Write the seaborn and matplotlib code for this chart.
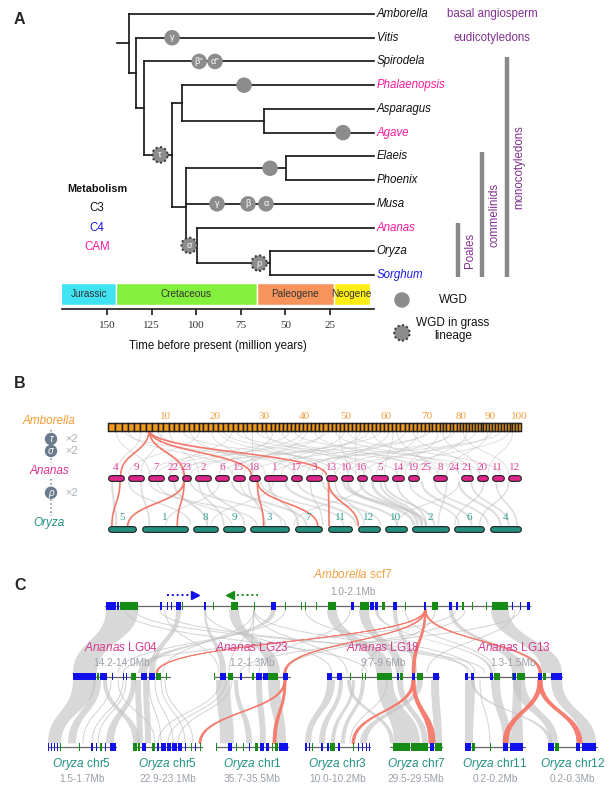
import numpy as np
import pandas as pd
import matplotlib
matplotlib.use('Agg')
import matplotlib.pyplot as plt
from matplotlib.patches import PathPatch, Rectangle
from matplotlib.path import Path
import matplotlib.patheffects as pe
import seaborn as sns

sns.set_theme(style='white')
plt.rcParams['font.family'] = ['Liberation Sans', 'DejaVu Sans']
plt.rcParams['mathtext.fontset'] = 'custom'
plt.rcParams['mathtext.it'] = 'Liberation Sans:italic'
plt.rcParams['mathtext.rm'] = 'Liberation Sans'

# ---------------- panel A data ----------------
taxa = ['Amborella', 'Vitis', 'Spirodela', 'Phalaenopsis', 'Asparagus', 'Agave',
        'Elaeis', 'Phoenix', 'Musa', 'Ananas', 'Oryza', 'Sorghum']
taxon_metabolism = ['C3', 'C3', 'C3', 'CAM', 'C3', 'CAM', 'C3', 'C3', 'C3', 'CAM', 'C3', 'C4']
metab_colors = {'C3': '#111111', 'C4': '#1a1ae6', 'CAM': '#ff1a9c'}

# (name, age in Mya, children)
tree = ('root', 137.8, [
    'Amborella',
    ('mesangio', 133.8, [
        'Vitis',
        ('monocots', 129.4, [
            'Spirodela',
            ('core', 113.6, [
                ('asparagales', 108.0, ['Phalaenopsis', ('asp_agave', 62.0, ['Asparagus', 'Agave'])]),
                ('commelinids', 105.8, [
                    ('arecales', 49.5, ['Elaeis', 'Phoenix']),
                    'Musa',
                    ('poales', 99.6, ['Ananas', ('grasses', 58.6, ['Oryza', 'Sorghum'])]),
                ]),
            ]),
        ]),
    ]),
])
root_stem_age = 144.5

wgd_branch = ['Vitis', 'Spirodela', 'Spirodela', 'Phalaenopsis', 'Agave', 'arecales',
              'Musa', 'Musa', 'Musa', 'core', 'poales', 'grasses']
wgd_age = [113.6, 98.4, 89.5, 73.2, 17.7, 58.6, 88.4, 71.0, 60.9, 120.4, 104.0, 64.8]
wgd_label = ['γ', "β''", "α''", '', '', '', 'γ', 'β', 'α', 'τ', 'σ', 'ρ']
wgd_grass = [False] * 9 + [True] * 3

period_names = ['Jurassic', 'Cretaceous', 'Paleogene', 'Neogene']
period_start = [201, 145, 66, 23]
period_end = [145, 66, 23, 2.6]
period_colors = ['#3fe3f2', '#84f03e', '#f7945c', '#ffee14']
time_ticks = [150, 125, 100, 75, 50, 25]

clade_names = ['monocotyledons', 'commelinids', 'Poales']
clade_first = ['Spirodela', 'Elaeis', 'Ananas']
clade_last = ['Sorghum', 'Sorghum', 'Sorghum']

# ---------------- panel B data ----------------
amb_scaffold_len = [7.2, 6.8, 6.5, 6.3, 6.1, 6.0, 5.9, 5.8, 5.6, 5.5,
                    5.3, 5.2, 5.1, 5.1, 5.0, 5.0, 4.9, 4.9, 4.8, 4.8,
                    5.2, 5.1, 5.1, 5.0, 5.0, 4.9, 4.9, 4.9, 4.8, 4.8,
                    4.3, 4.2, 4.2, 4.1, 4.1, 4.1, 4.0, 4.0, 4.0, 4.0,
                    4.3, 4.3, 4.2, 4.2, 4.2, 4.2, 4.1, 4.1, 4.1, 4.1,
                    4.2, 4.2, 4.1, 4.1, 4.1, 4.1, 4.1, 4.0, 4.0, 4.0,
                    4.3, 4.3, 4.2, 4.2, 4.2, 4.2, 4.1, 4.1, 4.1, 4.1,
                    3.7, 3.6, 3.6, 3.5, 3.5, 3.5, 3.4, 3.4, 3.4, 3.4,
                    3.0, 3.0, 3.0, 2.9, 2.9, 2.9, 2.9, 2.8, 2.8, 2.8,
                    3.1, 3.1, 3.0, 3.0, 3.0, 3.0, 3.0, 2.9, 2.9, 2.9]
amb_scaffold_names = [str(i + 1) for i in range(len(amb_scaffold_len))]
amb_tick_labels = ['10', '20', '30', '40', '50', '60', '70', '80', '90', '100']

ana_chroms = ['4', '9', '7', '22', '23', '2', '6', '15', '18', '1', '17', '3', '13',
              '10', '16', '5', '14', '19', '25', '8', '24', '21', '20', '11', '12']
ana_len = [16, 15, 15, 9, 8, 16, 13, 11, 10, 22, 11, 15, 10, 11, 10, 16, 11, 10, 5, 14, 5, 11, 10, 11, 13]
ory_chroms = ['5', '1', '8', '9', '3', '7', '11', '12', '10', '2', '6', '4']
ory_len = [28, 45, 24, 21, 38, 27, 24, 21, 21, 36, 29, 31]

# gray syntenic links, as fractions along the concatenated genomes
amb_ana_links = [(0.02, 0.10), (0.05, 0.30), (0.08, 0.02), (0.12, 0.45), (0.15, 0.22), (0.18, 0.60),
                 (0.22, 0.05), (0.25, 0.38), (0.28, 0.70), (0.30, 0.15), (0.33, 0.52), (0.36, 0.85),
                 (0.40, 0.27), (0.42, 0.64), (0.45, 0.90), (0.48, 0.33), (0.50, 0.75), (0.53, 0.12),
                 (0.56, 0.58), (0.58, 0.95), (0.61, 0.42), (0.64, 0.80), (0.66, 0.20), (0.69, 0.67),
                 (0.72, 0.48), (0.74, 0.88), (0.77, 0.35), (0.80, 0.72), (0.83, 0.55), (0.86, 0.97),
                 (0.89, 0.62), (0.92, 0.82), (0.95, 0.40), (0.98, 0.92), (0.60, 0.60), (0.35, 0.35),
                 (0.10, 0.18), (0.70, 0.78), (0.44, 0.10), (0.52, 0.30), (0.84, 0.45), (0.27, 0.55),
                 (0.04, 0.50), (0.13, 0.08), (0.20, 0.35), (0.38, 0.62), (0.47, 0.18), (0.55, 0.85),
                 (0.63, 0.28), (0.68, 0.52), (0.75, 0.65), (0.81, 0.90), (0.87, 0.75), (0.93, 0.58),
                 (0.97, 0.70), (0.31, 0.80), (0.57, 0.40), (0.78, 0.15)]
ana_ory_links = [(0.01, 0.02, 1.5), (0.05, 0.20, 1.0), (0.08, 0.10, 1.2), (0.12, 0.30, 0.8),
                 (0.16, 0.24, 1.5), (0.20, 0.43, 1.0), (0.24, 0.33, 1.2), (0.27, 0.14, 0.8),
                 (0.30, 0.48, 1.5), (0.34, 0.38, 1.2), (0.37, 0.57, 1.0), (0.40, 0.25, 0.8),
                 (0.43, 0.60, 1.5), (0.46, 0.66, 1.2), (0.49, 0.52, 1.0), (0.52, 0.70, 1.5),
                 (0.55, 0.62, 1.0), (0.58, 0.74, 2.0), (0.61, 0.76, 1.5), (0.64, 0.75, 2.0),
                 (0.67, 0.79, 1.5), (0.70, 0.77, 1.2), (0.73, 0.85, 1.0), (0.76, 0.88, 1.5),
                 (0.79, 0.92, 1.2), (0.82, 0.80, 1.0), (0.85, 0.95, 1.5), (0.88, 0.97, 1.2),
                 (0.91, 0.84, 1.0), (0.94, 0.99, 1.2), (0.97, 0.90, 1.0), (0.32, 0.42, 0.8),
                 (0.18, 0.05, 0.8), (0.62, 0.45, 0.8), (0.85, 0.70, 0.8), (0.10, 0.36, 1.0),
                 (0.22, 0.28, 1.2), (0.39, 0.46, 1.5), (0.57, 0.77, 1.8), (0.66, 0.76, 1.5)]
# highlighted links: (source chrom, fraction along it, target chrom, fraction along it)
red_amb_ana = [('7', 0.5, '4', 0.8), ('7', 0.5, '23', 0.25), ('7', 0.5, '18', 0.2), ('7', 0.5, '13', 0.0)]
red_ana_ory = [('4', 0.75, '5', 0.14), ('23', 0.25, '5', 0.7), ('23', 0.25, '1', 0.78),
               ('18', 0.8, '3', 0.34), ('18', 0.8, '7', 0.85), ('13', 0.2, '11', 0.04), ('13', 0.2, '12', 0.0)]

# ---------------- panel C data ----------------
# genes per track: (start, end, strand colour) in track units
c_genes = {
    'scf7': [(1, 11, 'b'), (12, 14, 'b'), (15, 33, 'g'), (55, 57, 'b'), (62, 63, 'b'), (66, 67, 'b'),
             (71, 76, 'b'), (77, 78, 'g'), (99, 101, 'b'), (108, 109, 'g'), (126, 133, 'g'), (149, 150, 'g'),
             (166, 171, 'b'), (180, 181, 'g'), (196, 197, 'g'), (200, 201, 'g'), (211, 212, 'g'),
             (223, 231, 'g'), (246, 249, 'b'), (255, 264, 'g'), (265, 269, 'b'), (270, 273, 'b'),
             (277, 280, 'g'), (288, 292, 'b'), (300, 301, 'g'), (319, 321, 'b'), (327, 333, 'g'),
             (344, 347, 'b'), (351, 353, 'b'), (357, 359, 'g'), (367, 368, 'g'), (381, 382, 'g'),
             (387, 403, 'g'), (407, 408, 'b'), (415, 416, 'b'), (422, 425, 'b')],
    'LG04': [(0, 23, 'b'), (24, 26, 'g'), (27, 34, 'b'), (39, 40, 'b'), (50, 51, 'b'), (53, 54, 'b'),
             (58, 63, 'g'), (68, 74, 'b'), (76, 82, 'b'), (83, 88, 'g'), (93, 94, 'g')],
    'LG23': [(0, 1, 'g'), (6, 12, 'b'), (14, 19, 'g'), (26, 28, 'b'), (38, 40, 'g'), (42, 48, 'b'),
             (49, 54, 'b'), (54, 64, 'g'), (69, 74, 'b')],
    'LG18': [(0, 5, 'b'), (10, 15, 'b'), (23, 24, 'g'), (35, 36, 'g'), (38, 39, 'g'), (50, 65, 'g'),
             (70, 72, 'b'), (73, 76, 'g'), (85, 88, 'b'), (90, 96, 'g'), (106, 112, 'b')],
    'LG13': [(0, 3, 'b'), (6, 9, 'b'), (25, 28, 'b'), (29, 35, 'g'), (47, 48, 'g'), (48, 51, 'b'),
             (52, 60, 'g'), (73, 77, 'b'), (78, 81, 'g'), (86, 97, 'b')],
    'chr5a': [(0, 1, 'b'), (3, 4, 'b'), (6, 7, 'b'), (9, 10, 'b'), (12, 13, 'g'), (31, 32, 'g'),
              (43, 45, 'b'), (48, 49, 'b'), (52, 54, 'g'), (57, 58, 'b'), (62, 68, 'b')],
    'chr5b': [(0, 4, 'g'), (5, 7, 'g'), (9, 13, 'b'), (19, 22, 'g'), (24, 26, 'b'), (28, 33, 'b'),
              (34, 38, 'b'), (39, 44, 'b'), (45, 49, 'b'), (52, 53, 'b'), (58, 59, 'g'), (62, 63, 'b'),
              (67, 68, 'g')],
    'chr1': [(0, 1, 'g'), (12, 16, 'b'), (20, 21, 'g'), (27, 28, 'g'), (33, 34, 'b'), (39, 42, 'g'),
             (44, 48, 'b'), (50, 53, 'b'), (56, 57, 'g'), (59, 62, 'g'), (63, 72, 'b')],
    'chr3': [(0, 2, 'b'), (4, 5, 'b'), (7, 8, 'g'), (16, 18, 'b'), (22, 24, 'b'), (25, 30, 'g'),
             (33, 35, 'b'), (48, 49, 'g'), (53, 54, 'b'), (57, 58, 'b'), (61, 62, 'b'), (64, 65, 'b')],
    'chr7': [(3, 20, 'g'), (21, 30, 'g'), (30, 38, 'g'), (40, 44, 'b'), (45, 52, 'g')],
    'chr11': [(0, 6, 'b'), (7, 10, 'g'), (25, 26, 'g'), (38, 43, 'b'), (45, 58, 'b')],
    'chr12': [(0, 6, 'b'), (7, 11, 'g'), (28, 32, 'b'), (34, 48, 'b')],
}
c_track_len = {'scf7': 425, 'LG04': 97, 'LG23': 76, 'LG18': 112, 'LG13': 97, 'chr5a': 68,
               'chr5b': 69, 'chr1': 72, 'chr3': 65, 'chr7': 52, 'chr11': 60, 'chr12': 49}
c_species = {'scf7': 'Amborella', 'LG04': 'Ananas', 'LG23': 'Ananas', 'LG18': 'Ananas', 'LG13': 'Ananas',
             'chr5a': 'Oryza', 'chr5b': 'Oryza', 'chr1': 'Oryza', 'chr3': 'Oryza', 'chr7': 'Oryza',
             'chr11': 'Oryza', 'chr12': 'Oryza'}
c_chrom_name = {'scf7': 'scf7', 'LG04': 'LG04', 'LG23': 'LG23', 'LG18': 'LG18', 'LG13': 'LG13',
                'chr5a': 'chr5', 'chr5b': 'chr5', 'chr1': 'chr1', 'chr3': 'chr3', 'chr7': 'chr7',
                'chr11': 'chr11', 'chr12': 'chr12'}
c_range = {'scf7': '1.0-2.1Mb', 'LG04': '14.2-14.0Mb', 'LG23': '1.2-1.3Mb', 'LG18': '9.7-9.6Mb',
           'LG13': '1.3-1.5Mb', 'chr5a': '1.5-1.7Mb', 'chr5b': '22.9-23.1Mb', 'chr1': '35.7-35.5Mb',
           'chr3': '10.0-10.2Mb', 'chr7': '29.5-29.5Mb', 'chr11': '0.2-0.2Mb', 'chr12': '0.2-0.3Mb'}
# synteny ribbons: (src, s0, s1, tgt, t0, t1)
c_gray_ribbons = [
    ('scf7', 1, 33, 'LG04', 0, 24), ('scf7', 124, 134, 'LG23', 54, 66), ('scf7', 149, 149, 'LG23', 15, 15),
    ('scf7', 149, 149, 'LG23', 35, 35), ('scf7', 149, 149, 'LG04', 90, 90), ('scf7', 149, 149, 'LG18', 20, 20),
    ('scf7', 222, 232, 'LG18', 49, 65), ('scf7', 254, 264, 'LG18', 69, 77), ('scf7', 386, 404, 'LG13', 77, 97),
    ('scf7', 344, 348, 'LG13', 47, 60), ('scf7', 166, 171, 'LG04', 65, 74), ('scf7', 60, 60, 'LG23', 5, 5),
    ('scf7', 100, 100, 'LG18', 5, 5), ('scf7', 180, 180, 'LG04', 45, 45), ('scf7', 200, 200, 'LG13', 10, 10),
    ('scf7', 245, 245, 'LG23', 45, 45), ('scf7', 300, 300, 'LG13', 30, 30), ('scf7', 330, 330, 'LG18', 35, 35),
    ('scf7', 360, 360, 'LG23', 70, 70), ('scf7', 410, 410, 'LG18', 100, 100), ('scf7', 20, 20, 'LG18', 40, 40),
    ('scf7', 30, 30, 'LG13', 20, 20), ('scf7', 288, 292, 'LG18', 86, 90), ('scf7', 71, 76, 'LG04', 76, 82),
    ('scf7', 99, 101, 'LG23', 6, 12), ('scf7', 270, 273, 'LG13', 25, 28), ('scf7', 149, 149, 'LG13', 3, 3),
    ('scf7', 55, 55, 'LG13', 6, 6), ('scf7', 415, 415, 'LG23', 26, 26), ('scf7', 351, 351, 'LG04', 50, 50),
    ('LG04', 0, 23, 'chr5a', 0, 13), ('LG04', 20, 28, 'chr5a', 20, 28), ('LG04', 38, 38, 'chr5a', 35, 35),
    ('LG04', 50, 50, 'chr5a', 44, 44), ('LG04', 53, 53, 'chr5a', 50, 50), ('LG04', 58, 63, 'chr5a', 58, 66),
    ('LG04', 62, 68, 'chr5b', 4, 10), ('LG04', 70, 76, 'chr5b', 12, 18), ('LG04', 76, 76, 'chr5b', 28, 28),
    ('LG04', 82, 82, 'chr5b', 40, 40), ('LG04', 88, 88, 'chr5b', 52, 52), ('LG04', 92, 92, 'chr5b', 60, 60),
    ('LG04', 30, 34, 'chr5b', 0, 7), ('LG04', 45, 45, 'chr5b', 22, 22),
    ('LG23', 2, 16, 'chr1', 4, 18), ('LG23', 20, 24, 'chr1', 30, 36), ('LG23', 6, 6, 'chr5b', 25, 25),
    ('LG23', 12, 12, 'chr5b', 35, 35), ('LG23', 18, 18, 'chr5b', 45, 45), ('LG23', 54, 66, 'chr1', 60, 70),
    ('LG23', 42, 48, 'chr1', 44, 50), ('LG18', 0, 8, 'chr3', 0, 6), ('LG18', 12, 16, 'chr3', 14, 20),
    ('LG18', 25, 28, 'chr3', 26, 30), ('LG18', 34, 38, 'chr3', 36, 40), ('LG18', 50, 66, 'chr7', 4, 30),
    ('LG18', 70, 76, 'chr7', 32, 38), ('LG18', 104, 112, 'chr7', 44, 52), ('LG18', 60, 60, 'chr3', 45, 45),
    ('LG18', 20, 24, 'chr7', 0, 4), ('LG18', 90, 96, 'chr3', 55, 62),
    ('LG13', 0, 10, 'chr11', 0, 8), ('LG13', 26, 35, 'chr11', 38, 46), ('LG13', 48, 60, 'chr12', 2, 10),
    ('LG13', 86, 97, 'chr12', 34, 48), ('LG13', 48, 56, 'chr11', 46, 58), ('LG13', 15, 15, 'chr11', 25, 25),
    ('LG13', 6, 9, 'chr12', 0, 4),
]
c_red_ribbons = [
    ('scf7', 319.5, 321, 'LG04', 83, 84.5), ('scf7', 319.5, 321, 'LG23', 70, 72),
    ('scf7', 319.5, 321, 'LG18', 85, 88), ('scf7', 319.5, 321, 'LG13', 74, 76.5),
    ('LG23', 70, 72, 'chr5b', 66, 68), ('LG23', 70, 72, 'chr1', 57, 60),
    ('LG18', 85, 88, 'chr3', 47, 49.5), ('LG18', 85, 88, 'chr7', 39, 45),
    ('LG13', 73, 77, 'chr11', 38, 43), ('LG13', 73, 77, 'chr12', 29, 34),
]

# ---------------- figure ----------------
W, H = 613, 791
fig = plt.figure(figsize=(W / 100, H / 100), dpi=100)


def px_axes(x0, y0, x1, y1):
    ax = fig.add_axes([x0 / W, 1 - y1 / H, (x1 - x0) / W, (y1 - y0) / H])
    ax.set_axis_off()
    return ax


def curve(x0, y0, x1, y1):
    ym = (y0 + y1) / 2
    return Path([(x0, y0), (x0, ym), (x1, ym), (x1, y1)],
                [Path.MOVETO, Path.CURVE4, Path.CURVE4, Path.CURVE4])


def ribbon(xa0, xa1, ya, xb0, xb1, yb):
    ym = (ya + yb) / 2
    verts = [(xa0, ya), (xa0, ym), (xb0, ym), (xb0, yb), (xb1, yb), (xb1, ym), (xa1, ym), (xa1, ya), (xa0, ya)]
    codes = [Path.MOVETO, Path.CURVE4, Path.CURVE4, Path.CURVE4, Path.LINETO,
             Path.CURVE4, Path.CURVE4, Path.CURVE4, Path.CLOSEPOLY]
    return Path(verts, codes)


# ===== A: phylogeny =====
X0, PX_MY, ROW = 374.5, 1.782, 23.73
axA = px_axes(0, 0, W, 360)
node_y = {}


def layout(node):
    if isinstance(node, str):
        node_y[node] = taxa.index(node)
        return node_y[node]
    name, age, kids = node
    ys = [layout(k) for k in kids]
    node_y[name] = (min(ys) + max(ys)) / 2
    return node_y[name]


def draw(node, parent_age):
    name, age = (node, 0) if isinstance(node, str) else node[:2]
    y = node_y[name]
    axA.plot([parent_age, age], [y, y], color='#1a1a1a', lw=1.25, solid_capstyle='projecting', zorder=2)
    if not isinstance(node, str):
        kid_y = [node_y[k if isinstance(k, str) else k[0]] for k in node[2]]
        axA.plot([age, age], [min(kid_y), max(kid_y)], color='#1a1a1a', lw=1.25,
                 solid_capstyle='projecting', zorder=2)
        for k in node[2]:
            draw(k, age)


layout(tree)
draw(tree, root_stem_age)

wgd = pd.DataFrame({'branch': wgd_branch, 'age': wgd_age, 'label': wgd_label, 'grass': wgd_grass})
wgd['y'] = wgd['branch'].map(node_y)
sns.scatterplot(data=wgd[~wgd.grass], x='age', y='y', s=125, color='#8c8c8c', edgecolor='none',
                ax=axA, zorder=5, legend=False)
sns.scatterplot(data=wgd[wgd.grass], x='age', y='y', s=125, color='#8c8c8c', edgecolor='#333333',
                linewidth=1.4, linestyle=(0, (1, 1.3)), ax=axA, zorder=5, legend=False)
for _, r in wgd.iterrows():
    if r['label']:
        axA.text(r['age'], r['y'], r['label'], color='white', fontsize=6.5, ha='center', va='center', zorder=6)

for i, (t, m) in enumerate(zip(taxa, taxon_metabolism)):
    axA.text(-1.2, i, t, fontsize=8.3, style='italic', color=metab_colors[m], va='center', ha='left')

purple = '#80308f'
axA.text(-66, 0, 'basal angiosperm', fontsize=8.3, color=purple, ha='center', va='center')
axA.text(-66, 1, 'eudicotyledons', fontsize=8.3, color=purple, ha='center', va='center')
bar_x = [-74.6, -60.6, -46.9]
for name, first, last, bx in zip(clade_names, clade_first, clade_last, bar_x):
    y0, y1 = taxa.index(first) - 0.2, taxa.index(last) + 0.1
    axA.plot([bx, bx], [y0, y1], color='#888888', lw=3.2, solid_capstyle='butt')
    axA.text(bx - 6.8, (y0 + y1) / 2, name, rotation=90, fontsize=8.3, color=purple, ha='center', va='center')

axA.text(155.6, 7.37, 'Metabolism', fontsize=7.8, weight='bold', ha='center', va='center', color='#111')
for k, m in enumerate(['C3', 'C4', 'CAM']):
    axA.text(155.6, 8.18 + 0.82 * k, m, fontsize=8.3, ha='center', va='center', color=metab_colors[m])

leg = pd.DataFrame({'x': [-15.4, -15.4], 'y': [12.05, 13.44], 'grass': [False, True]})
sns.scatterplot(data=leg[~leg.grass], x='x', y='y', s=125, color='#8c8c8c', edgecolor='none', ax=axA, legend=False)
sns.scatterplot(data=leg[leg.grass], x='x', y='y', s=125, color='#8c8c8c', edgecolor='#333333',
                linewidth=1.4, linestyle=(0, (1, 1.3)), ax=axA, legend=False)
axA.text(-44, 12.05, 'WGD', fontsize=8.5, ha='center', va='center', color='#111')
axA.text(-44, 13.3, 'WGD in grass\nlineage', fontsize=8.5, ha='center', va='center', color='#111',
         linespacing=1.1)
axA.set_xlim(X0 / PX_MY, (X0 - W) / PX_MY)
axA.set_ylim((360 - 14) / ROW, -14 / ROW)
axA.set_axis_off()

axT = px_axes(62, 283, 374, 309)
axT.set_axis_on()
tmax, tmin = (X0 - 62) / PX_MY, (X0 - 374) / PX_MY
axT.barh(y=0.5, width=np.array(period_start) - np.array(period_end), left=period_end, height=1.0,
         color=period_colors, edgecolor='white', linewidth=1.0)
for n, s, e in zip(period_names, period_start, period_end):
    axT.text((min(s, tmax) + e) / 2, 0.5, n, fontsize=7.2, ha='center', va='center', color='#333')
axT.set_xlim(tmax, tmin)
axT.set_ylim(-4 / 22, 1)
axT.set_xticks(time_ticks)
axT.set_yticks([])
for s in ['top', 'left', 'right']:
    axT.spines[s].set_visible(False)
axT.spines['bottom'].set_color('#1a1a1a')
axT.spines['bottom'].set_linewidth(1.2)
axT.tick_params(axis='x', bottom=True, direction='out', length=4.5, width=1.2, color='#1a1a1a',
                labelsize=8, labelcolor='#333', pad=4, labelfontfamily='Liberation Serif')
axT.set_facecolor('none')
axT.set_xlabel('Time before present (million years)', fontsize=8.3, labelpad=7, color='#111')

# ===== B: macro-synteny =====
BX0, BW, BY0, BROW = 108, 413, 427, 51
axB = px_axes(0, 375, W, 560)


def row_positions(lengths, gap):
    total = sum(lengths) + gap * (len(lengths) - 1)
    starts, pos = [], 0.0
    for L in lengths:
        starts.append(pos / total)
        pos += L + gap
    starts = np.array(starts)
    return starts, starts + np.array(lengths) / total


amb_s, amb_e = row_positions(amb_scaffold_len, 0)
ana_s, ana_e = row_positions(ana_len, 4.8)
ory_s, ory_e = row_positions(ory_len, 6.2)


def cpos(names, s, e, name, frac):
    i = names.index(name)
    return s[i] + frac * (e[i] - s[i])


for a, b in amb_ana_links:
    axB.add_patch(PathPatch(curve(a, 0.07, b, 0.93), fill=False, color='#c4c4c4', lw=0.6, alpha=0.6, zorder=1))
for a, b, w in ana_ory_links:
    axB.add_patch(PathPatch(curve(a, 1.07, b, 1.93), fill=False, color='#c4c4c4', lw=w, alpha=0.55, zorder=1))
red = '#f4786a'
for sc, sf, tc, tf in red_amb_ana:
    axB.add_patch(PathPatch(curve(cpos(amb_scaffold_names, amb_s, amb_e, sc, sf), 0.05,
                                  cpos(ana_chroms, ana_s, ana_e, tc, tf), 0.95),
                            fill=False, color=red, lw=1.2, zorder=3))
for sc, sf, tc, tf in red_ana_ory:
    axB.add_patch(PathPatch(curve(cpos(ana_chroms, ana_s, ana_e, sc, sf), 1.05,
                                  cpos(ory_chroms, ory_s, ory_e, tc, tf), 1.95),
                            fill=False, color=red, lw=1.2, zorder=3))

axB.barh(y=np.zeros(len(amb_s)), width=amb_e - amb_s, left=amb_s, height=0.14, color='#f39a1e',
         edgecolor='#222222', linewidth=1.05, zorder=4)
for lab in amb_tick_labels:
    i = amb_scaffold_names.index(lab)
    axB.text((amb_s[i] + amb_e[i]) / 2, -0.2, lab, fontsize=8, color='#f0a040', ha='center', va='center',
             family='Liberation Serif')

cap = 2.6 / BW


def pill_row(starts, ends, names, y, fill, label_color, label_y):
    for s, e, n in zip(starts, ends, names):
        axB.plot([s + cap, e - cap], [y, y], color=fill, lw=3.3, solid_capstyle='round', zorder=4,
                 path_effects=[pe.Stroke(linewidth=5.0, foreground='#222222'), pe.Normal()])
        axB.text((s + e) / 2, label_y, n, fontsize=8, color=label_color, ha='center', va='center',
                 family='Liberation Serif')


pill_row(ana_s, ana_e, ana_chroms, 1, '#e0258c', '#e0409a', 0.80)
pill_row(ory_s, ory_e, ory_chroms, 2, '#22907f', '#2e9e8c', 1.78)

lx = (49 - BX0) / BW
axB.text(lx, -0.12, 'Amborella', fontsize=8.5, style='italic', color='#f39c34', ha='center', va='center')
axB.text(lx, 0.86, 'Ananas', fontsize=8.5, style='italic', color='#e0308f', ha='center', va='center')
axB.text(lx, 1.88, 'Oryza', fontsize=8.5, style='italic', color='#1e9080', ha='center', va='center')
cx = (51 - BX0) / BW
axB.plot([cx, cx], [0.05, 0.7], color='#7a8896', lw=1.1, linestyle=':', zorder=1)
axB.plot([cx, cx], [1.02, 1.74], color='#7a8896', lw=1.1, linestyle=':', zorder=1)
wgd_b = pd.DataFrame({'x': [cx, cx, cx], 'y': [0.235, 0.47, 1.29], 'label': ['τ', 'σ', 'ρ']})
sns.scatterplot(data=wgd_b, x='x', y='y', s=80, color='#687a8c', edgecolor='none', ax=axB, legend=False, zorder=5)
for _, r in wgd_b.iterrows():
    axB.text(r['x'], r['y'], r['label'], color='white', fontsize=7, style='italic', ha='center',
             va='center', zorder=6)
    axB.text(r['x'] + 14 / BW, r['y'], '×2', color='#a8b0b8', fontsize=8, ha='left', va='center')
axB.set_xlim(-BX0 / BW, (W - BX0) / BW)
axB.set_ylim((560 - BY0) / BROW, (375 - BY0) / BROW)
axB.set_axis_off()

# ===== C: micro-synteny =====
axC = px_axes(0, 565, W, H)
c_left = {'scf7': 105, 'LG04': 73, 'LG23': 214, 'LG18': 327, 'LG13': 465, 'chr5a': 48, 'chr5b': 133,
          'chr1': 216, 'chr3': 305, 'chr7': 390, 'chr11': 465, 'chr12': 548}
c_row = {'Amborella': 0, 'Ananas': 1, 'Oryza': 2}
GH = 0.1
gcol = {'b': '#1010ec', 'g': '#168c16'}


def cx_(t, v):
    return c_left[t] + v


for src, s0, s1, tgt, t0, t1 in c_gray_ribbons:
    ya = c_row[c_species[src]] + GH / 2
    yb = c_row[c_species[tgt]] - GH / 2
    if s0 == s1:
        axC.add_patch(PathPatch(curve(cx_(src, s0), ya, cx_(tgt, t0), yb), fill=False, color='#c0c0c0',
                                lw=0.7, alpha=0.7, zorder=1))
    else:
        axC.add_patch(PathPatch(ribbon(cx_(src, s0), cx_(src, s1), ya, cx_(tgt, t0), cx_(tgt, t1), yb),
                                facecolor='#c4c4c4', edgecolor='none', alpha=0.65, zorder=1))
for src, s0, s1, tgt, t0, t1 in c_red_ribbons:
    ya = c_row[c_species[src]] + GH / 2
    yb = c_row[c_species[tgt]] - GH / 2
    axC.add_patch(PathPatch(ribbon(cx_(src, s0), cx_(src, s1), ya, cx_(tgt, t0), cx_(tgt, t1), yb),
                            facecolor=red, edgecolor=red, lw=0.6, alpha=0.95, zorder=3))

sp_col = {'Amborella': '#f0a040', 'Ananas': '#d6388e', 'Oryza': '#1f9080'}
for t, genes in c_genes.items():
    y = c_row[c_species[t]]
    axC.plot([cx_(t, 0), cx_(t, c_track_len[t])], [y, y], color='#666666', lw=0.9, zorder=4)
    for s, e, g in genes:
        axC.add_patch(Rectangle((cx_(t, s), y - GH / 2), max(e - s, 1.2), GH, facecolor=gcol[g],
                                edgecolor='none', zorder=5))
    if t == 'scf7':
        continue
    xm = cx_(t, c_track_len[t] / 2)
    ly = y - 0.41 if y == 1 else y + 0.24
    axC.text(xm, ly, r'$\mathit{%s}$ %s' % (c_species[t], c_chrom_name[t]), fontsize=8.5,
             color=sp_col[c_species[t]], ha='center', va='center')
    axC.text(xm, ly + 0.22, c_range[t], fontsize=7.3, color='#9aa0a8', ha='center', va='center')

axC.text(353, -0.44, r'$\mathit{Amborella}$ scf7', fontsize=8.5, color=sp_col['Amborella'], ha='center',
         va='center')
axC.text(353, -0.2, c_range['scf7'], fontsize=7.3, color='#9aa0a8', ha='center', va='center')
ay = -0.156
axC.plot([cx_('scf7', 62), cx_('scf7', 88)], [ay, ay], color=gcol['b'], lw=1.4, linestyle=(0, (1, 1.5)))
axC.plot([cx_('scf7', 90)], [ay], marker='>', color=gcol['b'], markersize=6)
axC.plot([cx_('scf7', 127), cx_('scf7', 153)], [ay, ay], color=gcol['g'], lw=1.4, linestyle=(0, (1, 1.5)))
axC.plot([cx_('scf7', 125)], [ay], marker='<', color=gcol['g'], markersize=6)
axC.set_xlim(0, W)
axC.set_ylim((H - 606) / 70.5, (565 - 606) / 70.5)
axC.set_axis_off()

for lab, y in [('A', 20), ('B', 384), ('C', 585)]:
    fig.text(14 / W, 1 - y / H, lab, fontsize=11.5, weight='bold', ha='left', va='center')

fig.savefig('out.png', dpi=100)
